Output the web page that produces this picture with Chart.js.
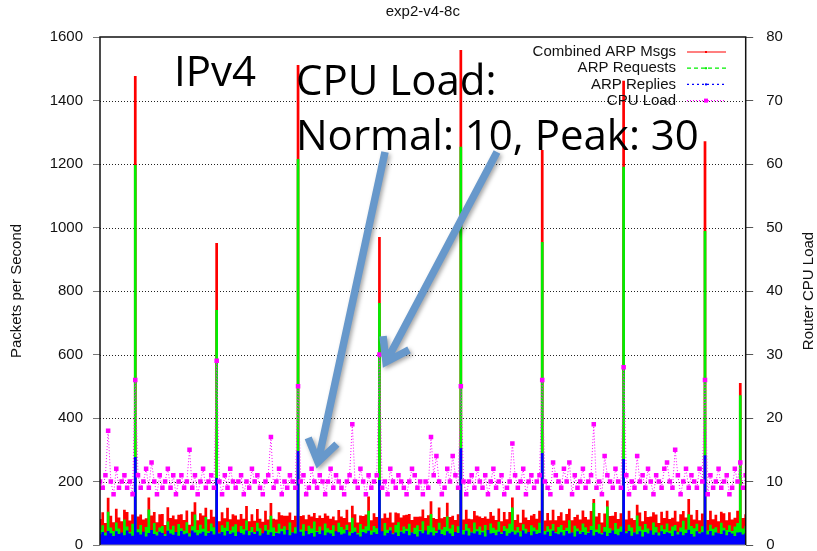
<!DOCTYPE html>
<html>
<head>
<meta charset="utf-8">
<title>exp2-v4-8c</title>
<script src="https://cdn.jsdelivr.net/npm/chart.js@4.4.1/dist/chart.umd.min.js"></script>
<style>
  html, body { margin: 0; background: #fff; overflow: hidden; }
  #wrap { width: 817px; height: 551px; overflow: hidden; }
</style>
</head>
<body>
<div id="wrap"><canvas id="myChart" width="817" height="567"></canvas></div>
<script>
// values, one sample per time step
const combined = [
  82, 103, 69, 149, 92, 72, 114, 87, 75, 111,
  104, 77, 96, 1477, 90, 96, 80, 84, 150, 93,
  104, 72, 97, 98, 63, 119, 85, 93, 81, 95,
  97, 79, 109, 64, 105, 135, 78, 100, 93, 117,
  81, 111, 89, 951, 75, 103, 84, 117, 81, 97,
  93, 80, 98, 83, 123, 75, 97, 76, 113, 83,
  73, 108, 80, 132, 83, 80, 103, 94, 92, 92,
  102, 79, 92, 1512, 91, 94, 81, 95, 90, 101,
  85, 93, 85, 99, 92, 83, 90, 78, 110, 90,
  85, 111, 72, 124, 97, 71, 93, 91, 96, 153,
  78, 100, 88, 970, 84, 99, 86, 102, 71, 102,
  100, 87, 94, 95, 98, 79, 89, 89, 90, 112,
  85, 94, 138, 85, 82, 118, 84, 88, 133, 88,
  92, 79, 97, 1559, 80, 111, 83, 81, 107, 93,
  90, 85, 90, 83, 104, 92, 79, 115, 75, 104,
  81, 104, 150, 79, 96, 70, 111, 87, 79, 93,
  98, 83, 108, 1244, 77, 101, 78, 111, 78, 91,
  103, 77, 98, 114, 78, 88, 95, 80, 109, 88,
  80, 107, 145, 90, 101, 71, 99, 140, 91, 92,
  104, 82, 100, 1462, 80, 108, 84, 79, 127, 102,
  75, 107, 88, 90, 103, 96, 69, 105, 85, 108,
  82, 86, 108, 74, 97, 107, 87, 145, 95, 80,
  110, 78, 99, 1272, 79, 108, 81, 95, 75, 105,
  100, 78, 103, 80, 86, 108, 510, 85, 97
];
const requests = [
  48, 62, 39, 105, 55, 44, 71, 52, 36, 80,
  58, 41, 67, 1197, 50, 63, 38, 57, 112, 46,
  69, 42, 55, 60, 35, 74, 49, 61, 40, 66,
  53, 45, 72, 37, 59, 96, 47, 64, 51, 88,
  43, 68, 56, 740, 39, 62, 54, 73, 46, 58,
  65, 38, 60, 50, 77, 44, 57, 41, 70, 53,
  36, 63, 48, 92, 55, 42, 67, 51, 59, 45,
  71, 40, 56, 1216, 49, 65, 37, 61, 52, 74,
  44, 58, 39, 68, 53, 47, 62, 35, 70, 57,
  49, 64, 42, 86, 55, 38, 66, 50, 59, 108,
  46, 60, 53, 762, 41, 69, 48, 56, 37, 63,
  72, 45, 58, 51, 67, 40, 54, 62, 47, 75,
  39, 61, 98, 55, 44, 70, 49, 57, 90, 52,
  64, 38, 59, 1254, 47, 66, 53, 42, 71, 50,
  58, 45, 63, 36, 68, 54, 48, 73, 40, 60,
  52, 67, 118, 46, 57, 43, 65, 51, 38, 62,
  55, 48, 70, 954, 44, 59, 50, 66, 41, 57,
  63, 47, 54, 78, 39, 61, 52, 45, 68, 56,
  42, 60, 132, 49, 65, 38, 57, 121, 53, 46,
  69, 51, 58, 1191, 43, 64, 55, 40, 93, 59,
  48, 66, 52, 44, 71, 57, 39, 62, 50, 68,
  45, 58, 63, 41, 55, 76, 49, 97, 60, 53,
  67, 42, 59, 989, 46, 64, 51, 56, 38, 70,
  54, 47, 62, 44, 58, 69, 472, 52, 60
];
const replies = [
  34, 41, 30, 44, 37, 28, 43, 35, 39, 31,
  46, 36, 29, 277, 40, 33, 42, 27, 38, 47,
  35, 30, 42, 38, 28, 45, 36, 32, 41, 29,
  44, 34, 37, 27, 46, 39, 31, 36, 42, 29,
  38, 43, 33, 211, 36, 41, 30, 44, 35, 39,
  28, 42, 38, 33, 46, 31, 40, 35, 43, 30,
  37, 45, 32, 40, 28, 38, 36, 43, 33, 47,
  31, 39, 36, 296, 42, 29, 44, 34, 38, 27,
  41, 35, 46, 31, 39, 36, 28, 43, 40, 33,
  36, 47, 30, 38, 42, 33, 27, 41, 37, 45,
  32, 40, 35, 205, 43, 30, 38, 46, 34, 39,
  28, 42, 36, 44, 31, 39, 35, 27, 43, 37,
  46, 33, 40, 30, 38, 48, 35, 31, 43, 36,
  28, 41, 38, 305, 33, 45, 30, 39, 36, 43,
  32, 40, 27, 47, 36, 38, 31, 42, 35, 44,
  29, 37, 42, 33, 39, 27, 46, 36, 41, 31,
  43, 35, 38, 290, 33, 42, 28, 45, 37, 34,
  40, 30, 44, 36, 39, 27, 43, 35, 41, 32,
  38, 47, 30, 41, 36, 33, 42, 28, 38, 46,
  35, 31, 42, 271, 37, 44, 29, 39, 34, 43,
  27, 41, 36, 46, 32, 39, 30, 43, 35, 40,
  37, 28, 45, 33, 42, 31, 38, 48, 35, 27,
  43, 36, 40, 283, 33, 44, 30, 39, 37, 35,
  46, 31, 41, 36, 28, 39, 40, 33, 37
];
const cpuLoad = [
  10, 9, 11, 18, 10, 8, 12, 9, 10, 11,
  9, 10, 8, 26, 11, 9, 10, 12, 9, 13,
  10, 8, 11, 9, 10, 12, 9, 11, 8, 10,
  11, 9, 10, 15, 9, 11, 8, 10, 12, 9,
  10, 11, 9, 29, 10, 8, 11, 9, 12, 10,
  9, 10, 11, 8, 10, 9, 12, 10, 11, 9,
  8, 10, 11, 17, 9, 10, 12, 8, 10, 9,
  11, 10, 9, 25, 10, 11, 8, 9, 12, 10,
  9, 11, 10, 8, 10, 12, 9, 11, 10, 9,
  8, 10, 11, 19, 10, 9, 12, 10, 8, 11,
  9, 10, 11, 30, 9, 10, 8, 12, 10, 9,
  11, 10, 9, 8, 10, 12, 11, 9, 10, 8,
  10, 9, 17, 11, 14, 10, 8, 9, 12, 10,
  14, 11, 9, 25, 10, 8, 10, 11, 9, 12,
  10, 9, 11, 8, 10, 12, 9, 10, 11, 8,
  9, 10, 16, 11, 9, 10, 12, 8, 10, 11,
  9, 10, 11, 26, 10, 9, 8, 13, 11, 10,
  9, 12, 10, 13, 8, 11, 9, 10, 12, 9,
  10, 11, 19, 9, 10, 8, 14, 11, 10, 9,
  12, 10, 9, 28, 11, 8, 10, 9, 14, 10,
  11, 9, 12, 10, 8, 11, 10, 9, 12, 13,
  10, 9, 15, 11, 8, 10, 12, 9, 11, 10,
  9, 12, 10, 26, 8, 11, 9, 10, 12, 9,
  10, 11, 8, 9, 12, 10, 13, 9, 11
];
const seriesNames = ['Combined ARP Msgs', 'ARP Requests', 'ARP Replies', 'CPU Load'];
const packetTicks = [0, 200, 400, 600, 800, 1000, 1200, 1400, 1600];
const cpuTicks = [0, 10, 20, 30, 40, 50, 60, 70, 80];

const FONT = '"Liberation Sans", Arial, sans-serif';
const toXY = (arr) => arr.map((v, i) => ({ x: i, y: v }));

const colors = ['#ff0000', '#00f000', '#0000ff', '#ff00ff'];
const dashes = [[], [4, 3], [2, 3], [1, 2]];

// gnuplot style box, grid, key and the slide annotations
const overlay = {
  id: 'overlay',
  beforeDatasetsDraw(chart) {
    const ctx = chart.ctx;
    const a = chart.chartArea;
    const y = chart.scales.y;
    ctx.save();
    ctx.strokeStyle = '#222';
    ctx.lineWidth = 1;
    ctx.setLineDash([1, 2]);
    packetTicks.slice(1, -1).forEach(v => {
      const py = Math.round(y.getPixelForValue(v)) + 0.5;
      ctx.beginPath();
      ctx.moveTo(a.left, py);
      ctx.lineTo(a.right, py);
      ctx.stroke();
    });
    ctx.restore();
  },
  afterDatasetsDraw(chart) {
    const ctx = chart.ctx;
    const a = chart.chartArea;
    ctx.save();
    ctx.strokeStyle = '#888';
    ctx.lineWidth = 1;
    ctx.beginPath();
    ctx.moveTo(a.left, a.bottom);
    ctx.lineTo(a.right, a.bottom);
    ctx.stroke();
    ctx.strokeStyle = '#111';
    ctx.lineWidth = 1.5;
    ctx.beginPath();
    ctx.moveTo(a.left, a.bottom);
    ctx.lineTo(a.left, a.top);
    ctx.lineTo(a.right, a.top);
    ctx.lineTo(a.right, a.bottom);
    ctx.stroke();
    ctx.restore();
  },
  afterDraw(chart) {
    const ctx = chart.ctx;
    const a = chart.chartArea;
    ctx.save();
    ctx.fillStyle = '#111';
    ctx.font = '15px ' + FONT;
    ctx.textAlign = 'center';
    ctx.textBaseline = 'middle';
    ctx.fillText('exp2-v4-8c', (a.left + a.right) / 2, 12);

    ctx.save();
    ctx.translate(17, (a.top + a.bottom) / 2);
    ctx.rotate(-Math.PI / 2);
    ctx.fillText('Packets per Second', 0, 0);
    ctx.restore();
    ctx.save();
    ctx.translate(809, (a.top + a.bottom) / 2);
    ctx.rotate(-Math.PI / 2);
    ctx.fillText('Router CPU Load', 0, 0);
    ctx.restore();

    // key
    ctx.textAlign = 'right';
    chart.data.datasets.forEach((ds, i) => {
      const y = 52 + i * 16.2;
      ctx.fillStyle = '#111';
      ctx.fillText(seriesNames[i], 676, y);
      ctx.strokeStyle = colors[i];
      ctx.lineWidth = 1.2;
      ctx.setLineDash(dashes[i]);
      ctx.beginPath();
      ctx.moveTo(687, y);
      ctx.lineTo(726, y);
      ctx.stroke();
      ctx.setLineDash([]);
      ctx.fillStyle = colors[i];
      const s = i === 3 ? 4 : 2;
      ctx.fillRect(706 - s / 2, y - s / 2, s, s);
    });

    // annotations
    ctx.fillStyle = '#000';
    ctx.textAlign = 'left';
    ctx.textBaseline = 'alphabetic';
    ctx.font = '42px "Open Sans", sans-serif';
    ctx.fillText('IPv4', 174, 86);
    ctx.fillText('CPU Load:', 296, 95);
    ctx.fillText('Normal: 10, Peak: 30', 296, 150);

    const arrow = (x1, y1, x2, y2) => {
      const ang = Math.atan2(y2 - y1, x2 - x1);
      const head = 26;
      ctx.beginPath();
      ctx.moveTo(x1, y1);
      ctx.lineTo(x2, y2);
      ctx.moveTo(x2 - head * Math.cos(ang - 0.6), y2 - head * Math.sin(ang - 0.6));
      ctx.lineTo(x2, y2);
      ctx.lineTo(x2 - head * Math.cos(ang + 0.6), y2 - head * Math.sin(ang + 0.6));
      ctx.stroke();
    };
    ctx.strokeStyle = '#6798cb';
    ctx.lineWidth = 7.5;
    ctx.shadowColor = 'rgba(0,0,0,0.35)';
    ctx.shadowBlur = 4;
    ctx.shadowOffsetX = 2;
    ctx.shadowOffsetY = 2;
    arrow(385, 152, 318, 462);
    arrow(497, 152, 386, 362);
    ctx.restore();
  }
};

const packetSeries = (i, values, order) => ({
  label: seriesNames[i],
  data: toXY(values),
  yAxisID: 'y',
  borderColor: 'transparent',
  backgroundColor: colors[i],
  borderWidth: 1,
  stepped: 'middle',
  fill: 'origin',
  pointRadius: 0,
  order: order
});

const data = {
  datasets: [
    packetSeries(0, combined, 3),
    packetSeries(1, requests, 2),
    packetSeries(2, replies, 1),
    {
      label: seriesNames[3],
      data: toXY(cpuLoad),
      yAxisID: 'y1',
      borderColor: colors[3],
      borderWidth: 1,
      borderDash: dashes[3],
      pointStyle: 'rect',
      pointRadius: 3.2,
      pointBorderWidth: 0,
      pointBackgroundColor: colors[3],
      order: 0
    }
  ]
};

const config = {
  type: 'line',
  data: data,
  plugins: [overlay],
  options: {
    responsive: false,
    animation: false,
    events: [],
    layout: { padding: { top: 37, bottom: 0, left: 0, right: 0 } },
    plugins: {
      legend: { display: false },
      tooltip: { enabled: false }
    },
    scales: {
      x: {
        type: 'linear',
        min: 0,
        max: 238,
        display: false
      },
      y: {
        position: 'left',
        min: 0,
        max: 1600,
        afterFit: (s) => { s.width = 100; },
        afterBuildTicks: (s) => { s.ticks = packetTicks.map(v => ({ value: v })); },
        ticks: {
          color: '#111',
          font: { family: FONT, size: 15 },
          padding: 10,
          callback: (v) => String(v)
        },
        grid: {
          drawOnChartArea: false,
          tickColor: '#777',
          tickLength: 7
        },
        border: { display: false }
      },
      y1: {
        position: 'right',
        min: 0,
        max: 80,
        afterFit: (s) => { s.width = 71.3; },
        afterBuildTicks: (s) => { s.ticks = cpuTicks.map(v => ({ value: v })); },
        ticks: {
          color: '#111',
          font: { family: FONT, size: 15 },
          padding: 13,
          callback: (v) => String(v)
        },
        grid: {
          drawOnChartArea: false,
          tickColor: '#555',
          tickLength: 7.5
        },
        border: { display: false }
      }
    }
  }
};

const myChart = new Chart(document.getElementById('myChart'), config);
</script>
</body>
</html>
